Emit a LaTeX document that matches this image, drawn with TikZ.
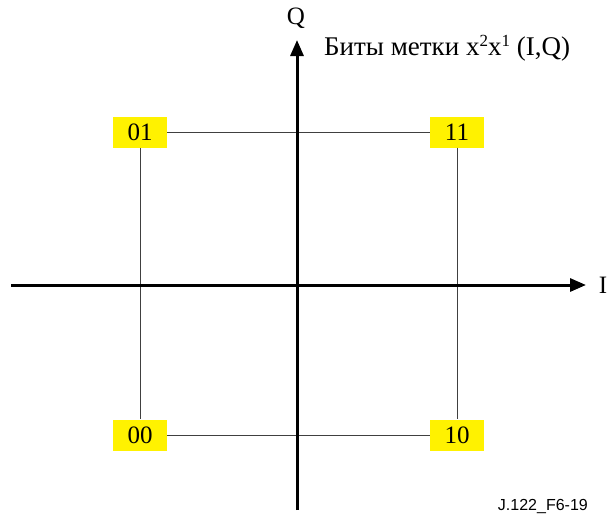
\documentclass[tikz,border=0pt]{standalone}
\usepackage{fontspec}
\setmainfont{Liberation Serif}
\newfontfamily\figsans{Liberation Sans}
\usetikzlibrary{arrows.meta}
\newcommand{\supx}[1]{\raisebox{9pt}{\fontsize{17}{19}\selectfont #1}}
\begin{document}
\begin{tikzpicture}[x=1pt,y=-1pt,
  axis/.style={line width=3pt,-{Triangle[length=16pt,width=13pt]}},
  grid/.style={line width=0.8pt,draw=black!75},
  pt/.style={fill=yellow,minimum width=54pt,minimum height=31pt,inner sep=0pt,font=\fontsize{25}{27}\selectfont},
  lbl/.style={font=\fontsize{25}{27}\selectfont,inner sep=0pt}]
\useasboundingbox (0,0) rectangle (609,517);
\coordinate (xs) at (11,285);
\coordinate (xe) at (586,285);
\coordinate (ys) at (297,510);
\coordinate (ye) at (297,40);
\node[pt] (p01) at (140,132) {01};
\node[pt] (p11) at (457,132) {11};
\node[pt] (p00) at (140,435) {00};
\node[pt] (p10) at (457,435) {10};
\draw[grid] (p01) -- (p11);
\draw[grid] (p00) -- (p10);
\draw[grid] (p01) -- (p00);
\draw[grid] (p11) -- (p10);
\draw[axis] (xs) -- (xe);
\draw[axis] (ys) -- (ye);
\node[lbl] (q) at (296,18) {Q};
\node[lbl] (i) at (603,285) {I};
\node[lbl,anchor=west,font=\fontsize{27}{29}\selectfont] (title) at (324,48) {Биты метки x\supx{2}x\supx{1} (I,Q)};
\node[font=\figsans\fontsize{16}{18}\selectfont,inner sep=0pt,anchor=east] (code) at (588,506) {J.122\_F6-19};
\end{tikzpicture}
\end{document}
